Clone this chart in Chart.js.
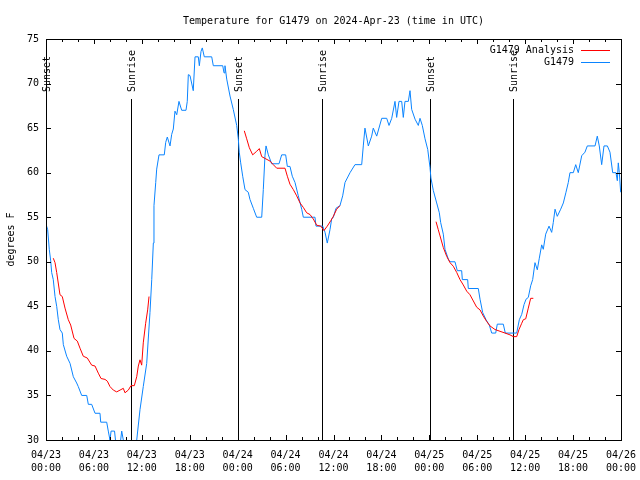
<!DOCTYPE html>
<html>
<head>
<meta charset="utf-8">
<title>G1479 temperature</title>
<script src="https://cdn.jsdelivr.net/npm/chart.js@4/dist/chart.umd.min.js"></script>
<style>
    html, body { margin: 0; padding: 0; background: #fff; }
    canvas { display: block; }
</style>
</head>
<body>
<canvas id="tempChart" width="640" height="480"></canvas>
<script>
// hours since 04/23 00:00 UTC
const stationTimes = [
    0.04, 0.21, 0.41, 0.59, 0.71, 0.91, 1.13, 1.34, 1.54, 1.75, 2.04, 2.17, 2.59, 3.01, 3.42, 3.84,
    4.04, 4.47, 5.10, 5.30, 5.72, 6.14, 6.76, 6.85, 7.60, 7.80, 8.01, 8.15, 8.58, 8.70, 8.89, 9.35,
    9.48, 9.68, 10.02, 10.64, 11.02, 11.36, 11.77, 12.18, 12.61, 13.02, 13.24, 13.44, 13.52, 13.74,
    13.86, 14.15, 14.81, 14.99, 15.19, 15.53, 15.74, 15.94, 16.15, 16.37, 16.65, 16.99, 17.53, 17.69,
    17.82, 18.03, 18.44, 18.66, 19.07, 19.20, 19.41, 19.57, 19.82, 20.75, 20.95, 22.13, 22.29, 22.41,
    22.63, 23.04, 23.45, 23.88, 24.08, 24.20, 24.38, 24.63, 24.92, 25.33, 25.54, 25.96, 26.38, 27.01,
    27.21, 27.42, 27.55, 27.84, 28.26, 29.18, 29.51, 30.01, 30.22, 30.55, 30.84, 31.18, 31.59, 32.02,
    32.22, 33.68, 33.81, 34.65, 34.94, 35.22, 35.56, 35.77, 35.98, 36.31, 36.81, 37.15, 37.44, 38.07,
    38.69, 39.53, 39.73, 39.94, 40.36, 40.78, 40.98, 41.41, 42.04, 42.66, 42.95, 43.29, 43.70, 43.91,
    44.20, 44.54, 44.74, 44.95, 45.37, 45.58, 45.79, 46.21, 46.62, 46.83, 47.12, 47.46, 47.80, 48.08,
    48.20, 48.50, 48.92, 49.25, 49.42, 49.75, 49.96, 50.38, 50.59, 51.21, 51.50, 52.05, 52.13, 52.80,
    52.88, 54.13, 54.35, 54.68, 55.10, 55.51, 55.81, 56.31, 56.51, 57.26, 57.51, 58.94, 59.27, 59.57,
    59.86, 60.11, 60.39, 60.69, 60.94, 61.23, 61.52, 61.77, 62.07, 62.27, 62.57, 62.99, 63.32, 63.52,
    63.74, 64.02, 64.45, 64.78, 65.11, 65.40, 65.61, 66.03, 66.33, 66.65, 67.08, 67.49, 67.78, 68.75,
    69.03, 69.28, 69.58, 69.87, 70.29, 70.62, 70.96, 71.37, 71.54, 71.66, 71.79, 71.96
];
const stationTemps = [
    54.1, 53.6, 51.4, 50.1, 48.8, 48.0, 46.1, 45.0, 43.5, 42.4, 42.0, 40.7, 39.4, 38.6, 37.1, 36.4,
    36.0, 35.0, 35.0, 34.0, 34.0, 33.0, 33.0, 32.0, 32.0, 31.0, 30.0, 31.0, 31.0, 30.0, 29.0, 30.0,
    31.0, 30.0, 29.0, 28.0, 29.0, 30.0, 33.4, 36.0, 38.6, 44.3, 48.0, 52.1, 56.3, 58.9,
    60.4, 62.0, 62.0, 63.4, 64.0, 63.0, 64.3, 64.9, 66.9, 66.5, 68.0, 67.0, 67.0, 68.0,
    71.0, 70.9, 69.2, 73.0, 73.0, 72.0, 73.6, 74.0, 73.0, 73.0, 72.0, 72.0, 71.2, 72.0,
    70.5, 68.6, 67.1, 65.3, 63.8, 62.3, 61.1, 59.6, 58.1, 57.8, 57.0, 56.0, 55.0, 55.0,
    58.1, 61.9, 63.0, 62.0, 61.0, 61.0, 62.0, 62.0, 60.7, 60.7, 59.6, 58.9, 57.4, 55.9,
    55.0, 55.0, 54.0, 54.0, 53.3, 52.1, 53.6, 54.8, 55.0, 56.0, 56.3, 57.4, 58.9, 60.0,
    60.9, 60.9, 63.0, 65.0, 63.0, 64.1, 65.0, 64.1, 66.1, 66.1, 65.3, 66.1, 68.0, 66.2,
    68.0, 68.0, 66.2, 68.0, 68.0, 69.2, 67.1, 66.0, 65.3, 66.1, 65.3, 63.8, 62.6, 60.6,
    59.4, 58.0, 56.6, 55.5, 54.4, 53.1, 51.4, 50.3, 50.0, 50.0, 49.0, 49.0, 48.0, 48.0,
    47.0, 47.0, 45.8, 44.3, 43.5, 42.9, 42.0, 42.0, 43.0, 43.0, 42.0, 42.0, 43.5, 44.1,
    45.2, 45.8, 46.0, 47.3, 48.0, 49.9, 49.1, 50.4, 51.9, 51.4, 53.1, 54.0, 53.3, 54.4,
    55.9, 55.1, 55.9, 56.6, 57.8, 58.9, 60.0, 60.0, 60.9, 60.0, 61.9, 62.3, 63.0, 63.0,
    64.1, 63.0, 60.9, 63.0, 63.0, 62.3, 60.0, 60.0, 59.1, 61.1, 60.0, 57.8
];

// null temps break the analysis line between nights
const analysisTimes = [
    0.91, 1.13, 1.34, 1.75, 2.04, 2.38, 2.79, 3.09, 3.51, 3.92, 4.26, 4.67, 5.17, 5.72, 6.14, 6.55,
    6.89, 7.39, 7.68, 8.01, 8.43, 8.85, 9.27, 9.68, 9.89, 10.31, 10.64, 11.06, 11.36, 11.56, 11.77,
    11.98, 12.18, 12.48, 12.73, 12.90, 13.02,
    18.0,
    24.83, 25.13, 25.46, 25.88, 26.38, 26.71, 27.01, 27.42, 28.05, 28.46, 28.89, 29.93, 30.22, 30.55,
    30.97, 31.39, 31.81, 32.22, 32.64, 33.06, 33.47, 33.90, 34.40, 34.81, 35.22, 35.65, 35.98, 36.40,
    36.81,
    42.0,
    48.84, 49.12, 49.34, 49.75, 50.18, 50.59, 51.00, 51.43, 51.84, 52.25, 52.68, 53.09, 53.51, 53.93,
    54.35, 54.76, 55.18, 55.60, 56.22, 56.85, 57.48, 58.10, 58.52, 58.94, 59.23, 59.57, 59.77, 60.07,
    60.39, 60.69, 61.02
];
const analysisTemps = [
    50.4, 49.9, 48.8, 46.3, 46.1, 44.8, 43.5, 42.9, 41.4, 41.1, 40.3, 39.4, 39.2, 38.4, 38.3, 37.5,
    36.9, 36.8, 36.6, 36.0, 35.6, 35.4, 35.6, 35.8, 35.3, 35.6, 36.1, 36.1, 37.1, 38.3, 39.0,
    38.4, 40.9, 43.1, 44.6, 46.1, 46.1,
    null,
    64.7, 63.8, 62.8, 62.0, 62.4, 62.7, 61.8, 61.6, 61.3, 60.9, 60.5, 60.5, 59.6, 58.7,
    58.1, 57.4, 56.6, 56.1, 55.5, 55.3, 54.8, 54.1, 54.0, 53.5, 54.0, 54.6, 55.1, 55.9,
    56.3,
    null,
    54.5, 53.6, 52.9, 51.6, 50.6, 49.9, 49.5, 48.8, 48.0, 47.4, 46.7, 46.3, 45.6, 44.9,
    44.6, 43.9, 43.3, 42.8, 42.4, 42.2, 42.0, 41.8, 41.6, 41.6, 42.4, 43.1, 43.5, 43.6,
    44.8, 45.9, 45.9
];

const sunTimes = [0.04, 10.68, 24.08, 34.6, 48.08, 58.5];
const sunLabels = ['Sunset', 'Sunrise', 'Sunset', 'Sunrise', 'Sunset', 'Sunrise'];

const xTickDates = ['04/23', '04/23', '04/23', '04/23', '04/24', '04/24', '04/24', '04/24',
    '04/25', '04/25', '04/25', '04/25', '04/26'];
const xTickTimes = ['00:00', '06:00', '12:00', '18:00', '00:00', '06:00', '12:00', '18:00',
    '00:00', '06:00', '12:00', '18:00', '00:00'];

const FONT = '10px "DejaVu Sans Mono", monospace';

const toPoints = (xs, ys) => xs.map((x, i) => ({ x, y: ys[i] }));

// gnuplot style box: inward ticks, mirrored on top/right
const frameTicks = {
    id: 'frameTicks',
    afterDraw(chart) {
        const { ctx, chartArea: a, scales } = chart;
        const xs = scales.x;
        const ys = scales.y;
        ctx.save();
        ctx.strokeStyle = '#000';
        ctx.lineWidth = 1;
        ctx.beginPath();
        for (let h = 0; h <= 72; h += 2) {
            const px = Math.round(xs.getPixelForValue(h)) + 0.5;
            const len = h % 6 === 0 ? 5 : 3;
            ctx.moveTo(px, a.bottom);
            ctx.lineTo(px, a.bottom - len);
            ctx.moveTo(px, a.top);
            ctx.lineTo(px, a.top + len);
        }
        for (let v = 30; v <= 75; v += 5) {
            const py = Math.round(ys.getPixelForValue(v)) + 0.5;
            ctx.moveTo(a.left, py);
            ctx.lineTo(a.left + 5, py);
            ctx.moveTo(a.right, py);
            ctx.lineTo(a.right - 5, py);
        }
        ctx.stroke();
        ctx.strokeRect(Math.round(a.left) + 0.5, Math.round(a.top) + 0.5,
            Math.round(a.right - a.left), Math.round(a.bottom - a.top));

        // key, sample line to the right of the text
        ctx.font = FONT;
        ctx.textAlign = 'right';
        ctx.textBaseline = 'middle';
        chart.data.datasets.forEach((ds, i) => {
            const y = a.top + 11 + i * 12;
            ctx.fillStyle = '#000';
            ctx.fillText(ds.label, 574, y);
            ctx.strokeStyle = ds.borderColor;
            ctx.beginPath();
            ctx.moveTo(581, y + 0.5);
            ctx.lineTo(610, y + 0.5);
            ctx.stroke();
        });
        ctx.restore();
    },
};

const sunMarks = {
    id: 'sunMarks',
    beforeDatasetsDraw(chart) {
        const { ctx, chartArea: a, scales } = chart;
        ctx.save();
        ctx.strokeStyle = '#000';
        ctx.fillStyle = '#000';
        ctx.lineWidth = 1;
        ctx.font = FONT;
        sunTimes.forEach((t, i) => {
            const px = Math.round(scales.x.getPixelForValue(t)) + 0.5;
            ctx.beginPath();
            ctx.moveTo(px, a.top + 60);
            ctx.lineTo(px, a.bottom);
            ctx.stroke();
            ctx.save();
            ctx.translate(px + 1, a.top + 53);
            ctx.rotate(-Math.PI / 2);
            ctx.textAlign = 'left';
            ctx.textBaseline = 'middle';
            ctx.fillText(sunLabels[i], 0, 0);
            ctx.restore();
        });
        ctx.restore();
    },
};

function initChart() {
    if (typeof Chart === 'undefined') return;
    Chart.defaults.color = '#000';
    Chart.defaults.font.family = '"DejaVu Sans Mono", monospace';
    Chart.defaults.font.size = 10;

    new Chart(document.getElementById('tempChart'), {
        type: 'line',
        data: {
            datasets: [{
                label: 'G1479 Analysis',
                data: toPoints(analysisTimes, analysisTemps),
                borderColor: '#ff0000',
                borderWidth: 1,
                pointRadius: 0,
                tension: 0,
                spanGaps: false,
            }, {
                label: 'G1479',
                data: toPoints(stationTimes, stationTemps),
                borderColor: '#0a84ff',
                borderWidth: 1,
                pointRadius: 0,
                tension: 0,
            }],
        },
        options: {
            responsive: false,
            animation: false,
            layout: { padding: { left: 0, right: 19, top: 0, bottom: 0 } },
            plugins: {
                legend: { display: false },
                tooltip: { enabled: false },
                title: {
                    display: true,
                    fullSize: false,
                    text: 'Temperature for G1479 on 2024-Apr-23 (time in UTC)',
                    font: { size: 10, weight: 'normal' },
                    color: '#000',
                    padding: { top: 15, bottom: 12 },
                },
            },
            scales: {
                x: {
                    type: 'linear',
                    min: 0,
                    max: 72,
                    afterFit: (scale) => {
                        scale.height = 40;
                        scale.paddingLeft = 0;
                        scale.paddingRight = 0;
                    },
                    grid: { display: false, drawTicks: false },
                    border: { display: false },
                    ticks: {
                        stepSize: 6,
                        autoSkip: false,
                        maxRotation: 0,
                        padding: 9,
                        font: { size: 10, lineHeight: 1.3 },
                        callback: (v) => {
                            const i = Math.round(v / 6);
                            return [xTickDates[i], xTickTimes[i]];
                        },
                    },
                },
                y: {
                    min: 30,
                    max: 75,
                    afterFit: (scale) => {
                        scale.width = 46;
                        scale.paddingTop = 0;
                        scale.paddingBottom = 0;
                    },
                    grid: { display: false, drawTicks: false },
                    border: { display: false },
                    ticks: { stepSize: 5, padding: 7 },
                    title: {
                        display: true,
                        text: 'degrees F',
                        font: { size: 10 },
                        padding: { top: 5, bottom: 0 },
                    },
                },
            },
        },
        plugins: [sunMarks, frameTicks],
    });
}

document.addEventListener('DOMContentLoaded', initChart);
</script>
</body>
</html>
